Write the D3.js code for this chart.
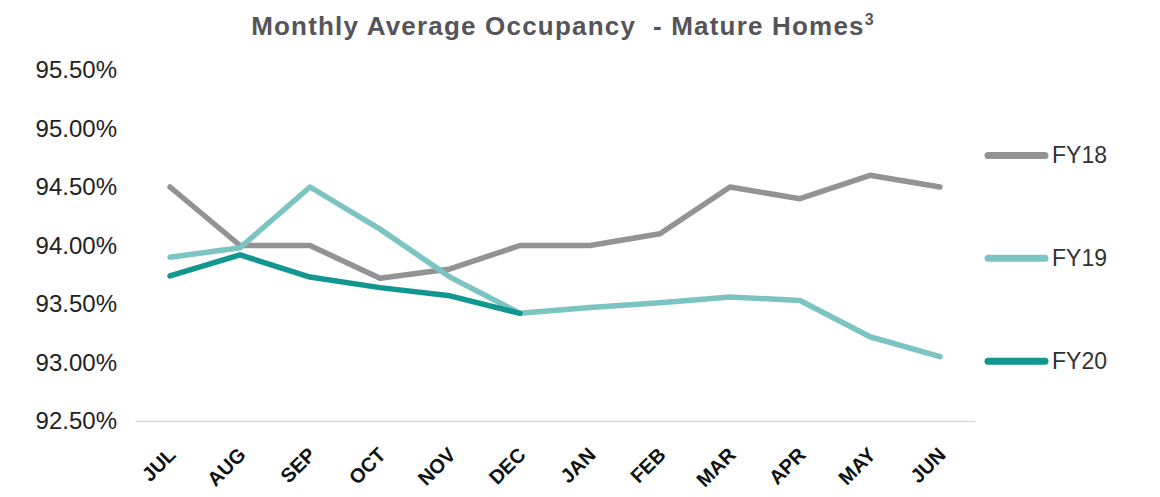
<!DOCTYPE html>
<html>
<head>
<meta charset="utf-8">
<script src="https://cdn.jsdelivr.net/npm/d3@7"></script>
<style>
  body { margin: 0; background: #fff; }
  svg { font-family: "Liberation Sans", Arial, sans-serif; }
</style>
</head>
<body>
<svg id="chart" width="1160" height="497"></svg>
<script>
// months of the fiscal year
var months = ["JUL", "AUG", "SEP", "OCT", "NOV", "DEC", "JAN", "FEB", "MAR", "APR", "MAY", "JUN"];
var yTicks = [92.5, 93.0, 93.5, 94.0, 94.5, 95.0, 95.5];

var fy18 = [94.50, 94.00, 94.00, 93.72, 93.80, 94.00, 94.00, 94.10, 94.50, 94.40, 94.60, 94.50];
var fy19 = [93.90, 93.98, 94.50, 94.14, 93.73, 93.42, 93.47, 93.51, 93.56, 93.53, 93.22, 93.05];
var fy20 = [93.74, 93.92, 93.73, 93.64, 93.57, 93.42];

var seriesNames = ["FY18", "FY19", "FY20"];
var seriesColors = ["#939396", "#7cc4c1", "#129690"];
// legend rows sit at these axis values
var legendValues = [94.77, 93.89, 93.01];

(function() {
	var series = [fy18, fy19, fy20];

	var svg = d3.select("#chart"),
		pLeft = 135, pRight = 975, pTop = 70, pBottom = 421;

	var x = d3.scaleBand().domain(months).range([pLeft, pRight]);
	var y = d3.scaleLinear().domain([92.5, 95.5]).range([pBottom, pTop]);

	// title
	var title = svg.append("text")
		.attr("x", 563).attr("y", 35)
		.attr("text-anchor", "middle")
		.style("white-space", "pre")
		.attr("font-size", 26).attr("font-weight", "bold")
		.attr("letter-spacing", 1.2)
		.attr("fill", "#555559");
	title.append("tspan").text("Monthly Average Occupancy  - Mature Homes");
	title.append("tspan").attr("font-size", 16).attr("dy", -10).text("3");

	// y axis (labels only)
	var yAxis = svg.append("g")
		.attr("transform", "translate(" + (pLeft - 18) + ",0)")
		.call(d3.axisLeft(y).tickValues(yTicks).tickSize(0).tickPadding(0)
			.tickFormat(function(d) { return d.toFixed(2) + "%"; }));
	yAxis.select(".domain").remove();
	yAxis.selectAll("text")
		.attr("font-size", 24).attr("fill", "#222")
		.attr("font-family", "Liberation Sans, Arial, sans-serif");

	// x axis
	var xAxis = svg.append("g")
		.attr("transform", "translate(0," + pBottom + ")")
		.call(d3.axisBottom(x).tickSize(0).tickPadding(0));
	xAxis.select(".domain").attr("stroke", "#d9d9d9").attr("stroke-width", 1.5);
	xAxis.selectAll("text")
		.attr("font-size", 20).attr("font-weight", "bold").attr("fill", "#111")
		.attr("font-family", "Liberation Sans, Arial, sans-serif")
		.attr("text-anchor", "end")
		.attr("dy", 0)
		.attr("transform", "translate(7,35) rotate(-45)");

	// lines
	var line = d3.line()
		.x(function(d, i) { return x(months[i]) + x.bandwidth() / 2; })
		.y(function(d) { return y(d); });

	svg.selectAll("path.series")
		.data(series)
		.enter().append("path")
		.attr("class", "series")
		.attr("d", line)
		.attr("fill", "none")
		.attr("stroke", function(d, i) { return seriesColors[i]; })
		.attr("stroke-width", 5.5)
		.attr("stroke-linejoin", "round")
		.attr("stroke-linecap", "round");

	// legend
	var legend = svg.selectAll("g.legend")
		.data(seriesNames)
		.enter().append("g")
		.attr("class", "legend")
		.attr("transform", function(d, i) { return "translate(0," + y(legendValues[i]) + ")"; });

	legend.append("line")
		.attr("x1", 988).attr("x2", 1045)
		.attr("stroke", function(d, i) { return seriesColors[i]; })
		.attr("stroke-width", 7)
		.attr("stroke-linecap", "round");

	legend.append("text")
		.attr("x", 1052).attr("dy", "0.35em")
		.attr("font-size", 23).attr("fill", "#333")
		.text(function(d) { return d; });
})();
</script>
</body>
</html>
